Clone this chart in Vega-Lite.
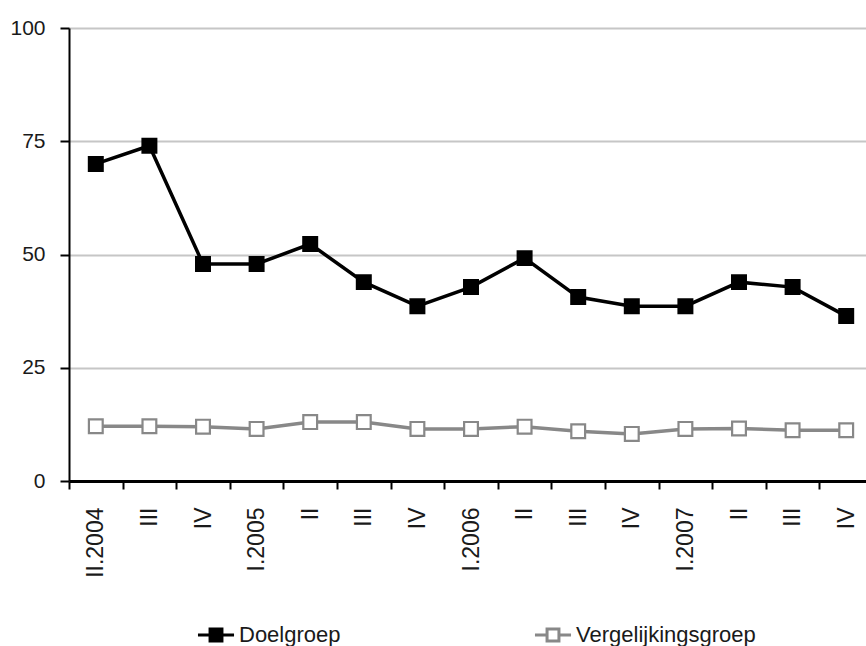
{
  "$schema": "https://vega.github.io/schema/vega-lite/v6.json",
  "autosize": "none",
  "padding": {"left": 69, "top": 28, "right": 0, "bottom": 165},
  "width": 804,
  "height": 453,
  "background": "white",
  "data": {
    "values": [
      {"q": "II.2004", "groep": "Doelgroep", "v": 70.0},
      {"q": "III.2004", "groep": "Doelgroep", "v": 74.0},
      {"q": "IV.2004", "groep": "Doelgroep", "v": 47.9},
      {"q": "I.2005", "groep": "Doelgroep", "v": 47.9},
      {"q": "II.2005", "groep": "Doelgroep", "v": 52.3},
      {"q": "III.2005", "groep": "Doelgroep", "v": 43.9},
      {"q": "IV.2005", "groep": "Doelgroep", "v": 38.6},
      {"q": "I.2006", "groep": "Doelgroep", "v": 42.8},
      {"q": "II.2006", "groep": "Doelgroep", "v": 49.2},
      {"q": "III.2006", "groep": "Doelgroep", "v": 40.6},
      {"q": "IV.2006", "groep": "Doelgroep", "v": 38.6},
      {"q": "I.2007", "groep": "Doelgroep", "v": 38.6},
      {"q": "II.2007", "groep": "Doelgroep", "v": 43.9},
      {"q": "III.2007", "groep": "Doelgroep", "v": 42.8},
      {"q": "IV.2007", "groep": "Doelgroep", "v": 36.4},
      {"q": "II.2004", "groep": "Vergelijkingsgroep", "v": 12.1},
      {"q": "III.2004", "groep": "Vergelijkingsgroep", "v": 12.1},
      {"q": "IV.2004", "groep": "Vergelijkingsgroep", "v": 12.0},
      {"q": "I.2005", "groep": "Vergelijkingsgroep", "v": 11.5},
      {"q": "II.2005", "groep": "Vergelijkingsgroep", "v": 13.0},
      {"q": "III.2005", "groep": "Vergelijkingsgroep", "v": 13.0},
      {"q": "IV.2005", "groep": "Vergelijkingsgroep", "v": 11.5},
      {"q": "I.2006", "groep": "Vergelijkingsgroep", "v": 11.5},
      {"q": "II.2006", "groep": "Vergelijkingsgroep", "v": 12.0},
      {"q": "III.2006", "groep": "Vergelijkingsgroep", "v": 11.0},
      {"q": "IV.2006", "groep": "Vergelijkingsgroep", "v": 10.4},
      {"q": "I.2007", "groep": "Vergelijkingsgroep", "v": 11.5},
      {"q": "II.2007", "groep": "Vergelijkingsgroep", "v": 11.6},
      {"q": "III.2007", "groep": "Vergelijkingsgroep", "v": 11.2},
      {"q": "IV.2007", "groep": "Vergelijkingsgroep", "v": 11.2}
    ]
  },
  "config": {
    "view": {"stroke": null},
    "font": "Liberation Sans",
    "axis": {"labelFont": "Liberation Sans", "labelColor": "#1a1a1a", "title": null},
    "legend": {
      "orient": "none",
      "legendX": 127,
      "legendY": 587,
      "direction": "horizontal",
      "columns": 2,
      "columnPadding": 187,
      "labelFont": "Liberation Sans",
      "labelFontSize": 22,
      "labelColor": "#1a1a1a",
      "labelOffset": 3,
      "labelLimit": 400,
      "symbolType": "M-1,0H-0.33M0.33,0H1M-0.33,-0.33H0.33V0.33H-0.33Z",
      "symbolSize": 1300,
      "symbolStrokeWidth": 3,
      "padding": 0
    }
  },
  "encoding": {
    "x": {
      "field": "q",
      "type": "ordinal",
      "sort": null,
      "scale": {"paddingInner": 0, "paddingOuter": 0},
      "axis": {
        "labelAngle": -90,
        "labelFontSize": 23,
        "labelPadding": 18,
        "tickSize": 8,
        "tickColor": "#000",
        "tickWidth": 2,
        "tickBand": "extent",
        "domainColor": "#000",
        "domainWidth": 3,
        "grid": false,
        "labelExpr": "isString(datum.value) ? ((datum.value == 'II.2004' || substring(datum.value, 0, 2) == 'I.') ? datum.value : split(datum.value, '.')[0]) : ''"
      }
    },
    "y": {
      "field": "v",
      "type": "quantitative",
      "scale": {"domain": [0, 100], "nice": false},
      "axis": {
        "values": [0, 25, 50, 75, 100],
        "labelFontSize": 21,
        "labelPadding": 15,
        "tickSize": 9,
        "tickColor": "#000",
        "tickWidth": 2,
        "domainColor": "#000",
        "domainWidth": 2,
        "grid": true,
        "gridColor": "#c6c6c6",
        "gridWidth": 2
      }
    }
  },
  "layer": [
    {
      "mark": {"type": "line", "strokeWidth": 3.5},
      "encoding": {
        "stroke": {
          "field": "groep",
          "type": "nominal",
          "scale": {"domain": ["Doelgroep", "Vergelijkingsgroep"], "range": ["#000000", "#888888"]},
          "legend": {"title": null}
        }
      }
    },
    {
      "mark": {"type": "point", "shape": "square", "filled": true, "size": 190, "strokeWidth": 2.2, "opacity": 1},
      "encoding": {
        "stroke": {
          "field": "groep",
          "type": "nominal",
          "scale": {"domain": ["Doelgroep", "Vergelijkingsgroep"], "range": ["#000000", "#888888"]},
          "legend": {"title": null}
        },
        "fill": {
          "field": "groep",
          "type": "nominal",
          "scale": {"domain": ["Doelgroep", "Vergelijkingsgroep"], "range": ["#000000", "#ffffff"]},
          "legend": {"title": null}
        }
      }
    }
  ]
}
